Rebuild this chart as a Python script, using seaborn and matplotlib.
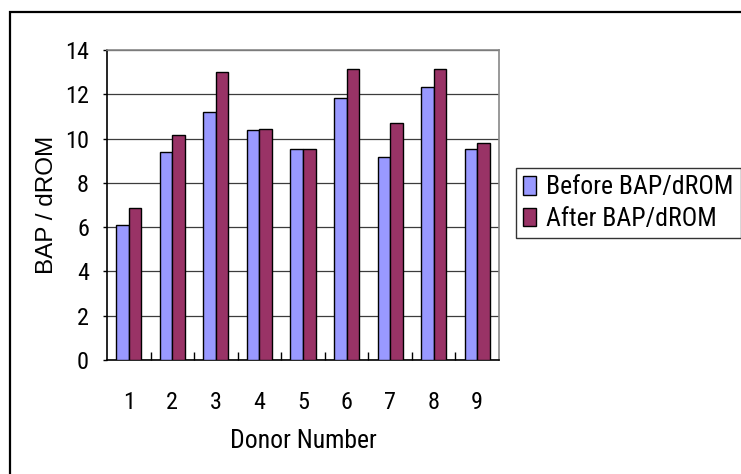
import matplotlib
matplotlib.use("Agg")
import matplotlib.pyplot as plt
from matplotlib.patches import Rectangle, Patch
from matplotlib.ticker import MultipleLocator, FixedLocator
import seaborn as sns
import pandas as pd
import numpy as np

# Data
donors = ["1", "2", "3", "4", "5", "6", "7", "8", "9"]
before_vals = [6.1, 9.4, 11.2, 10.4, 9.55, 11.85, 9.15, 12.35, 9.55]
after_vals = [6.85, 10.15, 13.0, 10.45, 9.55, 13.15, 10.7, 13.15, 9.8]
series_names = ["Before BAP/dROM", "After BAP/dROM"]
colors = ["#9999FF", "#993366"]

df = pd.DataFrame({
    "Donor": donors * 2,
    "Value": before_vals + after_vals,
    "Series": [series_names[0]] * len(donors) + [series_names[1]] * len(donors),
})

sns.set_theme(style="white")
narrow = ["Roboto Condensed", "Liberation Sans", "DejaVu Sans"]
plt.rcParams["font.family"] = narrow
for key in ["text.color", "axes.labelcolor", "xtick.color", "ytick.color"]:
    plt.rcParams[key] = "black"

fig = plt.figure(figsize=(7.41, 4.74), dpi=100)
ax = fig.add_axes([107 / 741, 1 - 360 / 474, 392 / 741, 310 / 474])

sns.barplot(data=df, x="Donor", y="Value", hue="Series", order=donors,
            hue_order=series_names, palette=colors, width=0.575, gap=0,
            edgecolor="black", linewidth=1.0, saturation=1, legend=False,
            ax=ax, zorder=3)

ax.set_xlim(-0.5, len(donors) - 0.5)
ax.set_ylim(0, 14)
ax.yaxis.set_major_locator(MultipleLocator(2))
ax.grid(axis="y", color="#3c3c3c", linewidth=0.9, zorder=0)
ax.grid(axis="x", visible=False)
ax.set_axisbelow(True)

for side in ["top", "right"]:
    ax.spines[side].set_color("#888888")
    ax.spines[side].set_linewidth(1.2)
for side in ["left", "bottom"]:
    ax.spines[side].set_color("black")
    ax.spines[side].set_linewidth(1.2)

# y ticks outward, x ticks inward at category boundaries
ax.tick_params(axis="y", which="major", direction="out", length=3, width=1,
               color="black", pad=10, labelsize=17.5, left=True)
ax.tick_params(axis="x", which="major", length=0, pad=22, labelsize=17.5)
ax.xaxis.set_minor_locator(FixedLocator(np.arange(0.5, len(donors) - 1, 1.0)))
ax.tick_params(axis="x", which="minor", direction="in", length=6, width=1,
               color="black", bottom=True)

ax.set_xlabel("Donor Number", fontsize=18.5, labelpad=11)
ax.set_ylabel("BAP / dROM", fontsize=17.5, labelpad=5,
              family=["Liberation Sans", "DejaVu Sans"])

handles = [Patch(facecolor=c, edgecolor="black", linewidth=1.0) for c in colors]
leg = fig.legend(handles, series_names, loc="upper left",
                 bbox_to_anchor=(516 / 741, 1 - 168 / 474),
                 frameon=True, fancybox=False, fontsize=18.5,
                 handlelength=0.5, handleheight=0.75, handletextpad=0.4,
                 labelspacing=0.3, borderpad=0.28, borderaxespad=0)
leg.get_frame().set_edgecolor("black")
leg.get_frame().set_linewidth(1.0)

# outer chart border
fig.patches.append(Rectangle((10 / 741, -0.2), 1.2, 1 - 11.5 / 474 + 0.2,
                             transform=fig.transFigure, fill=False,
                             edgecolor="black", linewidth=1.6))

fig.savefig("out.png", dpi=100)
